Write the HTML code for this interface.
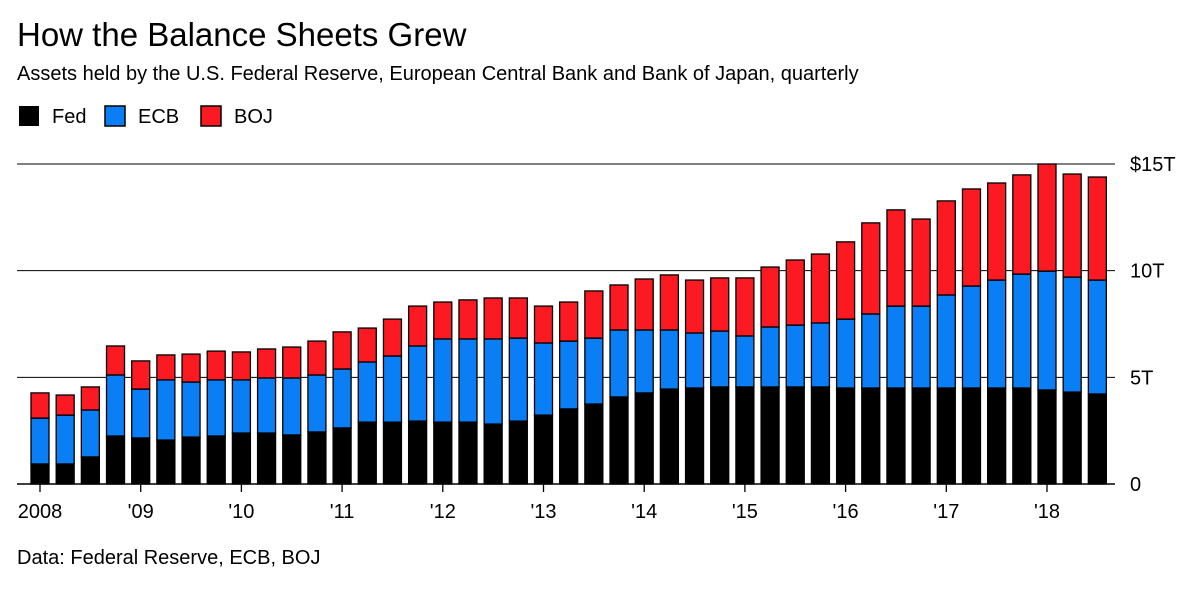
<!DOCTYPE html>
<html><head><meta charset="utf-8"><style>
body{margin:0;background:#fff;width:1200px;height:587px;overflow:hidden;font-family:"Liberation Sans",sans-serif;}
</style></head><body>
<svg width="1200" height="587">
<text x="17" y="46" font-size="33" fill="#000">How the Balance Sheets Grew</text>
<text x="17" y="80" font-size="20" fill="#000">Assets held by the U.S. Federal Reserve, European Central Bank and Bank of Japan, quarterly</text>
<g>
<rect x="19" y="106" width="20" height="20" fill="#000"/>
<text x="52" y="123" font-size="20">Fed</text>
<rect x="105" y="106" width="20" height="20" fill="#0a7ef5" stroke="#000" stroke-width="1.5"/>
<text x="138" y="123" font-size="20">ECB</text>
<rect x="201" y="106" width="20" height="20" fill="#fb1a22" stroke="#000" stroke-width="1.5"/>
<text x="234" y="123" font-size="20">BOJ</text>
</g>
<g id="grid"></g><g id="bars"></g><g id="xaxis"></g>
<text x="17" y="564" font-size="20">Data: Federal Reserve, ECB, BOJ</text>
</svg>
<script>
const fed=[0.94,0.94,1.27,2.25,2.16,2.06,2.2,2.25,2.39,2.39,2.3,2.44,2.63,2.9,2.9,2.95,2.9,2.9,2.81,2.95,3.23,3.52,3.75,4.08,4.27,4.45,4.5,4.55,4.55,4.55,4.55,4.55,4.5,4.5,4.5,4.5,4.5,4.5,4.5,4.5,4.41,4.31,4.22];
const ecb=[2.15,2.29,2.2,2.86,2.29,2.82,2.58,2.63,2.49,2.58,2.67,2.67,2.76,2.82,3.1,3.52,3.9,3.9,3.99,3.89,3.38,3.18,3.09,3.14,2.95,2.77,2.58,2.62,2.39,2.81,2.9,3.0,3.23,3.47,3.84,3.84,4.36,4.78,5.06,5.34,5.57,5.39,5.34];
const boj=[1.18,0.94,1.08,1.36,1.32,1.17,1.31,1.35,1.31,1.36,1.45,1.59,1.74,1.59,1.73,1.87,1.73,1.83,1.92,1.88,1.73,1.83,2.21,2.11,2.39,2.58,2.48,2.49,2.72,2.81,3.05,3.23,3.62,4.27,4.51,4.08,4.41,4.55,4.55,4.65,5.02,4.83,4.83];
const yTicks=[0,5,10,15];
const yLabels=["0","5T","10T","$15T"];
const years=["2008","'09","'10","'11","'12","'13","'14","'15","'16","'17","'18"];
const NS="http://www.w3.org/2000/svg";
const y=v=>484-v*(320/15);
const x=i=>40+i*(1007/40);
const bw=18;
function mk(tag,attrs,parent){const e=document.createElementNS(NS,tag);for(const k in attrs)e.setAttribute(k,attrs[k]);parent.appendChild(e);return e;}
const grid=document.getElementById('grid'),bars=document.getElementById('bars'),xa=document.getElementById('xaxis');
yTicks.forEach((t,i)=>{
 const l=mk('line',{x1:17,x2:1115,y1:y(t),y2:y(t),stroke:'#000','stroke-width':t===0?1.5:1},grid);
 
 
 const tx=mk('text',{x:1130,y:y(t)+7,'font-size':20},grid);tx.textContent=yLabels[i];
 
 
});
fed.forEach((f,i)=>{
 const cx=x(i);
 const segs=[[0,f,'#000','fed'],[f,f+ecb[i],'#0a7ef5','ecb'],[f+ecb[i],f+ecb[i]+boj[i],'#fb1a22','boj']];
 segs.forEach(s=>{
  const r=mk('rect',{x:cx-bw/2,y:y(s[1]),width:bw,height:y(s[0])-y(s[1]),fill:s[2],stroke:'#000','stroke-width':1.3},bars);
  
  
 });
});
years.forEach((yr,j)=>{
 const cx=x(j*4);
 const t=mk('line',{x1:cx,x2:cx,y1:484,y2:492,stroke:'#000','stroke-width':1.3},xa);
 
 
 const tx=mk('text',{x:cx,y:518,'font-size':20,'text-anchor':'middle'},xa);tx.textContent=yr;
 
 
});
</script>
</body></html>
